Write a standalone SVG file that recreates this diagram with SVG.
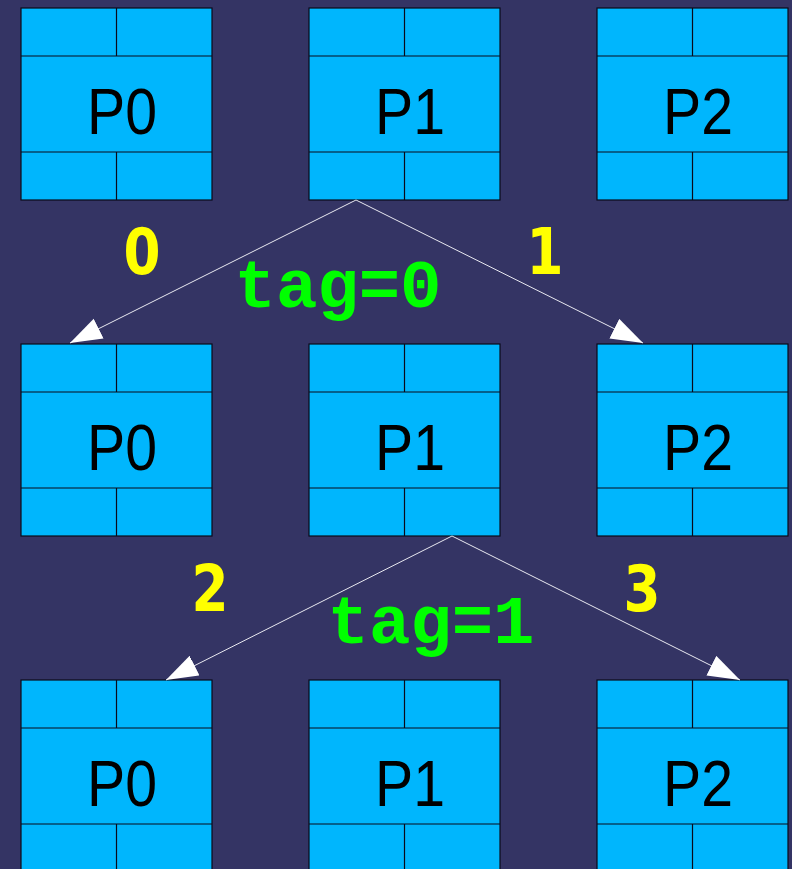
<svg xmlns="http://www.w3.org/2000/svg" width="792" height="869" viewBox="0 0 792 869">
  <defs>
    <style>
      .cell { fill: #00b6fd; stroke: #0a0a1a; stroke-width: 1.2; }
      .div { stroke: #0a0a1a; stroke-width: 1.2; fill: none; }
      .pname { font-family: "Liberation Sans", Arial, sans-serif; font-size: 65px; fill: #000; }
      .msg { stroke: #e8e8f0; stroke-width: 1; fill: none; marker-end: url(#head); }
      .num { font-family: "DejaVu Sans", Verdana, sans-serif; font-weight: bold; font-size: 64px; fill: #ffff00; text-anchor: middle; }
      .tag { font-family: "Liberation Mono", "Courier New", monospace; font-weight: bold; font-size: 69px; fill: #00ff00; text-anchor: middle; }
    </style>
    <marker id="head" markerUnits="userSpaceOnUse" markerWidth="34" markerHeight="24" refX="32" refY="11" orient="auto" viewBox="0 0 34 24">
      <path d="M0,0 L32,11 L0,22 z" fill="#ffffff"/>
    </marker>
    <!-- one process box: two cells on top, a wide middle band, two cells at the bottom -->
    <g id="proc">
      <rect class="cell" x="0" y="0" width="191" height="192"/>
      <line class="div" x1="0" y1="48" x2="191" y2="48"/>
      <line class="div" x1="0" y1="144" x2="191" y2="144"/>
      <line class="div" x1="95.5" y1="0" x2="95.5" y2="48"/>
      <line class="div" x1="95.5" y1="144" x2="95.5" y2="192"/>
    </g>
  </defs>

  <rect x="0" y="0" width="792" height="869" fill="#343464"/>

  <!-- step 1 -->
  <g id="p0-a"><use href="#proc" x="21" y="8"/><text class="pname" x="87" y="134" textLength="70" lengthAdjust="spacingAndGlyphs">P0</text></g>
  <g id="p1-a"><use href="#proc" x="309" y="8"/><text class="pname" x="375" y="134" textLength="70" lengthAdjust="spacingAndGlyphs">P1</text></g>
  <g id="p2-a"><use href="#proc" x="597" y="8"/><text class="pname" x="663" y="134" textLength="70" lengthAdjust="spacingAndGlyphs">P2</text></g>

  <!-- step 2 -->
  <g id="p0-b"><use href="#proc" x="21" y="344"/><text class="pname" x="87" y="470" textLength="70" lengthAdjust="spacingAndGlyphs">P0</text></g>
  <g id="p1-b"><use href="#proc" x="309" y="344"/><text class="pname" x="375" y="470" textLength="70" lengthAdjust="spacingAndGlyphs">P1</text></g>
  <g id="p2-b"><use href="#proc" x="597" y="344"/><text class="pname" x="663" y="470" textLength="70" lengthAdjust="spacingAndGlyphs">P2</text></g>

  <!-- step 3 -->
  <g id="p0-c"><use href="#proc" x="21" y="680"/><text class="pname" x="87" y="806" textLength="70" lengthAdjust="spacingAndGlyphs">P0</text></g>
  <g id="p1-c"><use href="#proc" x="309" y="680"/><text class="pname" x="375" y="806" textLength="70" lengthAdjust="spacingAndGlyphs">P1</text></g>
  <g id="p2-c"><use href="#proc" x="597" y="680"/><text class="pname" x="663" y="806" textLength="70" lengthAdjust="spacingAndGlyphs">P2</text></g>

  <!-- messages -->
  <g id="connectors">
    <line class="msg" x1="356" y1="200" x2="70" y2="343"/>
    <line class="msg" x1="356" y1="200" x2="643" y2="343"/>
    <line class="msg" x1="452" y1="536" x2="166" y2="680"/>
    <line class="msg" x1="452" y1="536" x2="740" y2="680"/>
  </g>

  <g id="labels">
    <text class="num" x="142" y="274" textLength="37" lengthAdjust="spacingAndGlyphs">0</text>
    <text class="num" x="545" y="274" textLength="37" lengthAdjust="spacingAndGlyphs">1</text>
    <text class="num" x="210" y="611" textLength="37" lengthAdjust="spacingAndGlyphs">2</text>
    <text class="num" x="642" y="611" textLength="37" lengthAdjust="spacingAndGlyphs">3</text>
    <text class="tag" x="338" y="307">tag=0</text>
    <text class="tag" x="431" y="643">tag=1</text>
  </g>
</svg>
